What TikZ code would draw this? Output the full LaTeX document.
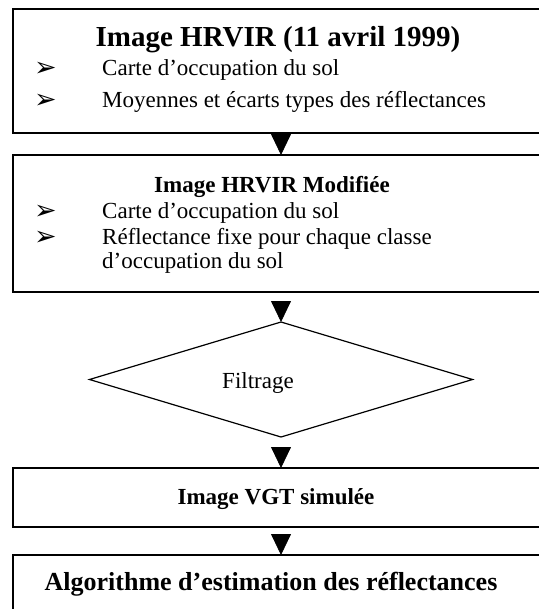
\documentclass[tikz,border=0pt]{standalone}
\usepackage{fontspec}
\setmainfont{Liberation Serif}
\newfontfamily\dingfont{DejaVu Sans}
\usetikzlibrary{shapes.geometric,arrows.meta}
\tikzset{
  box/.style={draw,line width=1.5pt,minimum width=536pt,outer sep=0pt,inner sep=0pt},
  txt/.style={anchor=base west,inner sep=0pt,font=\fontsize{23}{25}\selectfont},
  head/.style={anchor=base,inner sep=0pt,font=\bfseries\fontsize{23}{25}\selectfont},
  bul/.style={anchor=base west,inner sep=0pt,font=\dingfont\fontsize{27}{28}\selectfont},
  tri/.style={-{Triangle[width=20pt,length=21pt]},line width=0.8pt,shorten <=#1},
}
\begin{document}
\begin{tikzpicture}[x=1pt,y=-1pt]
\useasboundingbox (0,0) rectangle (538,609);
\node[box,minimum height=124pt] (hrvir) at (281,71) {};
\node[box,minimum height=137pt] (modif) at (281,223.5) {};
\node[draw,diamond,line width=1.2pt,minimum width=383pt,minimum height=115pt,aspect=3.33,
  outer sep=0pt,inner sep=0pt] (filtre) at (281,379.5) {};
\node[box,minimum height=59pt] (vgt) at (281,497.5) {};
\node[box,minimum height=60pt] (algo) at (281,585) {};
\node[head,font=\bfseries\fontsize{29}{32}\selectfont] (titre1) at (278,47) {Image HRVIR (11 avril 1999)};
\node[bul] (p1) at (34,77) {➢};
\node[txt] (l1) at (102,76) {Carte d’occupation du sol};
\node[bul] (p2) at (34,109) {➢};
\node[txt] (l2) at (102,108) {Moyennes et écarts types des réflectances};
\node[head] (titre2) at (272,193) {Image HRVIR Modifiée};
\node[bul] (p3) at (34,220) {➢};
\node[txt] (l3) at (102,219) {Carte d’occupation du sol};
\node[bul] (p4) at (34,245) {➢};
\node[txt] (l4) at (102,244) {Réflectance fixe pour chaque classe};
\node[txt] (l5) at (102,268) {d’occupation du sol};
\node[txt,anchor=base] (l6) at (258,388) {Filtrage};
\node[head] (titre3) at (276,504) {Image VGT simulée};
\node[head,font=\bfseries\fontsize{26}{28}\selectfont] (titre4) at (271,590) {Algorithme d’estimation des réflectances};
\draw[tri=0pt] (hrvir.south) -- (modif.north);
\draw[tri=9pt] (modif.south) -- (filtre.north);
\draw[tri=10pt] (filtre.south) -- (vgt.north);
\draw[tri=7pt] (vgt.south) -- (algo.north);
\end{tikzpicture}
\end{document}
